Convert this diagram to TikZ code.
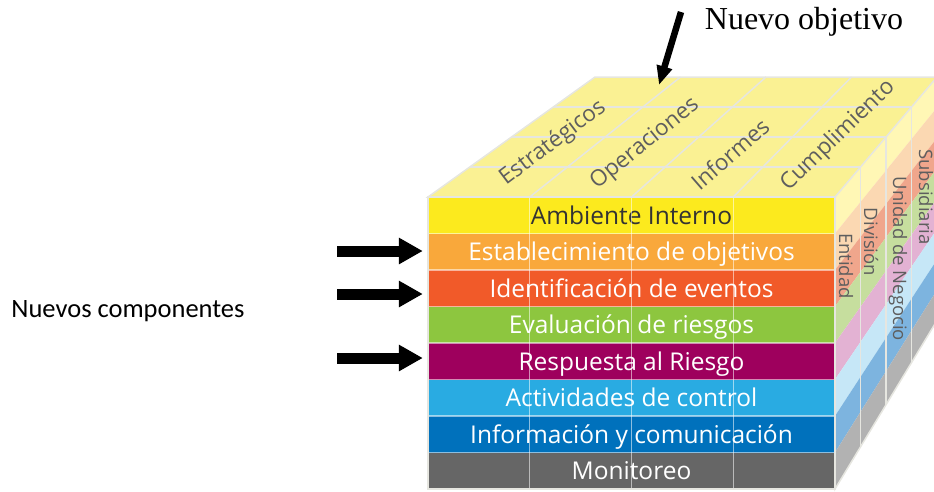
\documentclass[tikz,border=0pt]{standalone}
\usepackage{fontspec}
\setmainfont{Liberation Serif}
\newfontfamily\cubefont{Open Sans}
\newfontfamily\calib{Carlito}
\usetikzlibrary{arrows.meta,calc}

\definecolor{topface}{HTML}{FAF193}
\definecolor{cA}{HTML}{FCEA1E}
\definecolor{cB}{HTML}{F9A83B}
\definecolor{cC}{HTML}{F15A29}
\definecolor{cD}{HTML}{8DC63F}
\definecolor{cE}{HTML}{9E005D}
\definecolor{cF}{HTML}{29ABE2}
\definecolor{cG}{HTML}{0071BC}
\definecolor{cH}{HTML}{666666}
\definecolor{pA}{HTML}{FFF7B5}
\definecolor{pB}{HTML}{FBD8B2}
\definecolor{pC}{HTML}{F0A68C}
\definecolor{pD}{HTML}{C6DE9E}
\definecolor{pE}{HTML}{E3B2D3}
\definecolor{pF}{HTML}{C6E7F7}
\definecolor{pG}{HTML}{7DB4DF}
\definecolor{pH}{HTML}{B2B2B2}
\definecolor{labgray}{HTML}{5E5E5E}
\definecolor{gridline}{HTML}{E6E6E0}

\tikzset{
  rowbox/.style={minimum width=407pt, minimum height=36.5pt, inner sep=0pt,
    text height=17.5pt, text depth=0pt,
    font=\cubefont\fontsize{24.5}{24.5}\selectfont, text=white},
  toplab/.style={font=\cubefont\fontsize{22.5}{22.5}\selectfont, text=labgray, inner sep=0pt},
  sidelab/.style={font=\cubefont\fontsize{18.5}{18.5}\selectfont, text=labgray, inner sep=0pt, rotate=-90},
  grid3d/.style={draw=gridline, line width=1.5pt},
  gridfront/.style={draw=white, draw opacity=0.55, line width=1.3pt},
  bigarrow/.style={line width=11pt, -{Triangle[length=24pt,width=25pt]}},
  toparrow/.style={line width=6.5pt, -{Triangle[length=19pt,width=15pt]}}
}

\begin{document}
\begin{tikzpicture}[x=1pt,y=-1pt]
\useasboundingbox (0,0) rectangle (934,491);

% cube corners
\coordinate (TL) at (428,197);
\coordinate (TR) at (835,197);
\coordinate (BL) at (595,77);
\coordinate (BR) at (937,77);
\coordinate (BB) at (937,320.5);
\coordinate (FB) at (835,489);

% top face
\fill[topface] (TL) -- (TR) -- (BR) -- (BL) -- cycle;

% right face bands
\foreach \k/\c in {0/pA,1/pB,2/pC,3/pD,4/pE,5/pF,6/pG,7/pH}{
  \pgfmathsetmacro\a{\k/8}
  \pgfmathsetmacro\b{(\k+1)/8}
  \fill[\c] ($(TR)!\a!(FB)$) -- ($(BR)!\a!(BB)$) -- ($(BR)!\b!(BB)$) -- ($(TR)!\b!(FB)$) -- cycle;
}

% front rows
\node[rowbox, fill=cA, text=black!80] (r1) at (631.5,215.25) {Ambiente Interno};
\node[rowbox, fill=cB] (r2) at (631.5,251.75) {Establecimiento de objetivos};
\node[rowbox, fill=cC] (r3) at (631.5,288.25) {Identificación de eventos};
\node[rowbox, fill=cD] (r4) at (631.5,324.75) {Evaluación de riesgos};
\node[rowbox, fill=cE] (r5) at (631.5,361.25) {Respuesta al Riesgo};
\node[rowbox, fill=cF] (r6) at (631.5,397.75) {Actividades de control};
\node[rowbox, fill=cG] (r7) at (631.5,434.25) {Información y comunicación};
\node[rowbox, fill=cH] (r8) at (631.5,470.75) {Monitoreo};

% front grid
\foreach \i in {1,2,3}{
  \draw[gridfront] ($(TL)!\i/4!(TR)$) -- ($(TL)!\i/4!(TR)+(0,292)$);
}
\foreach \k in {1,...,7}{
  \draw[gridfront] ($(TL)+(0,36.5*\k)$) -- ($(TR)+(0,36.5*\k)$);
}
\draw[grid3d] (TL) rectangle (FB);

% top grid
\foreach \i in {1,2,3}{
  \draw[grid3d] ($(TL)!\i/4!(TR)$) -- ($(BL)!\i/4!(BR)$);
  \draw[grid3d] ($(TL)!\i/4!(BL)$) -- ($(TR)!\i/4!(BR)$);
}
\draw[grid3d] (TL) -- (TR) -- (BR) -- (BL) -- cycle;

% right grid
\foreach \i in {1,2,3}{
  \draw[grid3d] ($(TR)!\i/4!(BR)$) -- ($(FB)!\i/4!(BB)$);
}
\draw[grid3d] (TR) -- (FB) -- (BB);

% top labels
\node[toplab, rotate=37] (o1) at (553,143) {Estratégicos};
\node[toplab, rotate=39] (o2) at (645,144) {Operaciones};
\node[toplab, rotate=41] (o3) at (730,154) {Informes};
\node[toplab, rotate=44] (o4) at (838,136) {Cumplimiento};

% side labels
\node[sidelab] (s1) at (846,266) {Entidad};
\node[sidelab] (s2) at (871,242) {División};
\node[sidelab] (s3) at (898,259) {Unidad de Negocio};
\node[sidelab] (s4) at (926,197) {Subsidiaria};

% annotations
\node[font=\calib\fontsize{26.5}{26.5}\selectfont, inner sep=0pt] (nc) at (128,311) {Nuevos componentes};
\node[font=\fontsize{32}{32}\selectfont, inner sep=0pt] (no) at (804,22) {Nuevo objetivo};

% arrows
\coordinate (a1) at (337,251);
\coordinate (a2) at (337,294);
\coordinate (a3) at (337,358);
\draw[bigarrow] (a1) -- ([xshift=-5pt]a1 -| r2.west);
\draw[bigarrow] (a2) -- ([xshift=-5pt]a2 -| r3.west);
\draw[bigarrow] (a3) -- ([xshift=-5pt]a3 -| r5.west);
\coordinate (ta) at (681,12);
\coordinate (tb) at (659,85);
\draw[toparrow] (ta) -- (tb);
\end{tikzpicture}
\end{document}
